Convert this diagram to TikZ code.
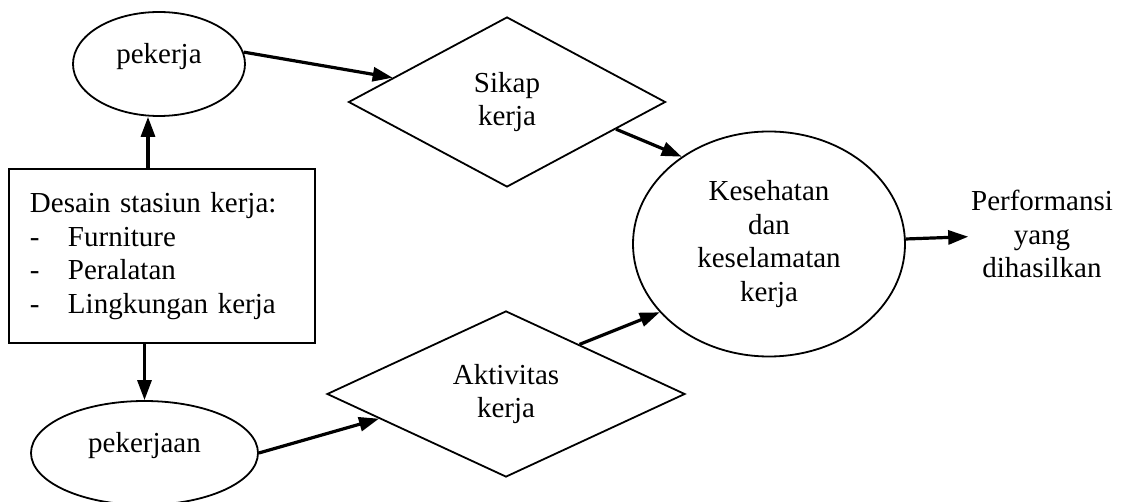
\documentclass[tikz,border=0pt]{standalone}
\usepackage{fontspec}
\setmainfont{Liberation Serif}
\usetikzlibrary{shapes.geometric,arrows.meta}
\newcommand{\dashitem}[1]{\makebox[19pt][l]{-}#1}

\begin{document}
\begin{tikzpicture}
  [x=0.5pt,y=-0.5pt,
   every node/.style={font=\fontsize{14.5}{16.7}\selectfont,line width=0.9pt},
   oval/.style={ellipse,draw,inner sep=0pt,align=center},
   oneline/.style={text height=0pt,text depth=0pt},
   kite/.style={diamond,draw,inner sep=0pt,align=center},
   arr/.style={-{Triangle[length=10pt,width=7pt]},line width=1.6pt}]
  \useasboundingbox (0,0) rectangle (1121,502);

  \node[oval,oneline,minimum width=86pt,minimum height=52pt] (pkj) at (159,64) {pekerja};
  \node[draw,align=left,text width=132pt,inner xsep=10.5pt,minimum height=87pt] (dsn) at (162,256)
    {Desain stasiun kerja:\\ \dashitem{Furniture}\\ \dashitem{Peralatan}\\ \dashitem{Lingkungan kerja}};
  \node[oval,oneline,minimum width=113.5pt,minimum height=52pt] (pkn) at (144.5,453) {pekerjaan};
  \node[kite,minimum width=158.5pt,minimum height=85pt] (sik) at (507,102) {Sikap\\kerja};
  \node[kite,minimum width=179pt,minimum height=83pt] (akt) at (506,394) {Aktivitas\\kerja};
  \node[oval,minimum width=136pt,minimum height=112.5pt] (ksh) at (769,244)
    {Kesehatan\\dan\\keselamatan\\kerja};
  \node[align=center,inner sep=1pt] (prf) at (1042,234) {Performansi\\yang\\dihasilkan};

  \draw[arr] ([xshift=-7pt]dsn.north) -- ([xshift=-5.5pt]pkj.south);
  \draw[arr] (dsn.south -| pkn.north) -- (pkn.north);
  \draw[arr] (pkj.8) -- (sik.168);
  \draw[arr] (pkn.east) -- (akt.191);
  \draw[arr] (sik.-14) -- (ksh.135);
  \draw[arr] (akt.34) -- (ksh.212);
  \draw[arr] (ksh) -- (prf);

\end{tikzpicture}
\end{document}
